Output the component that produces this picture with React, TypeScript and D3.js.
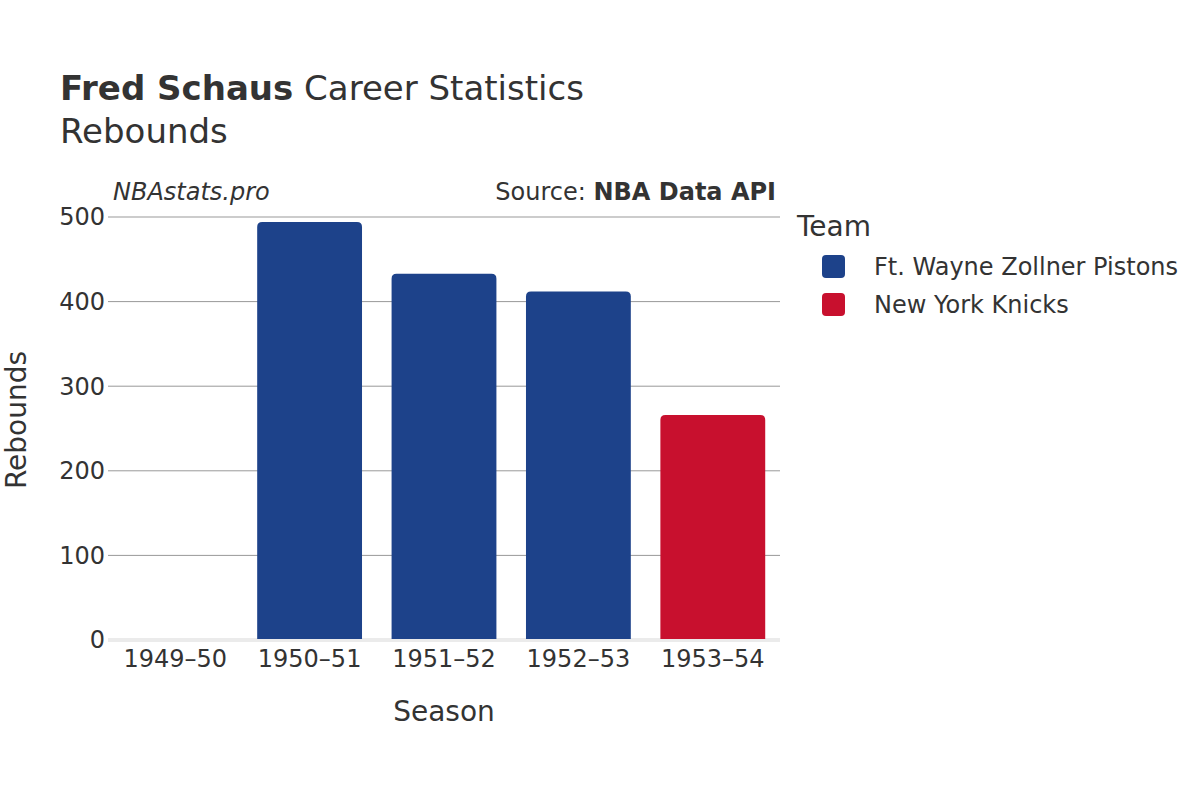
import { useRef, useEffect } from 'react'
import * as d3 from "d3";

const seasons = ["1949–50", "1950–51", "1951–52", "1952–53", "1953–54"];
const rebounds = [0, 494, 433, 412, 266];
const seasonTeams = ["Ft. Wayne Zollner Pistons", "Ft. Wayne Zollner Pistons", "Ft. Wayne Zollner Pistons", "Ft. Wayne Zollner Pistons", "New York Knicks"];
const teams = ["Ft. Wayne Zollner Pistons", "New York Knicks"];
const teamColors = ["#1d428a", "#c8102e"];
const yTickValues = [0, 100, 200, 300, 400, 500];

const width = 1200;
const height = 800;
const marginLeft = 108;
const marginRight = 420;
const marginTop = 217;
const marginBottom = 160;
const font = "'DejaVu Sans', sans-serif";
const textColor = "#333";

function App() {
  const svgRef = useRef<SVGSVGElement>(null);

  useEffect(() => {
    const svg = d3.select(svgRef.current);
    svg.selectAll("*").remove();

    const x = d3.scaleBand(seasons, [marginLeft, width - marginRight]).paddingInner(0.22).paddingOuter(0.11);
    const y = d3.scaleLinear([0, 500], [height - marginBottom, marginTop]);
    const color = d3.scaleOrdinal(teams, teamColors);

    // gridlines
    svg.append("g")
      .selectAll("line")
      .data(yTickValues.filter(d => d > 0))
      .join("line")
      .attr("x1", marginLeft)
      .attr("x2", width - marginRight)
      .attr("y1", d => y(d))
      .attr("y2", d => y(d))
      .attr("stroke", "#999")
      .attr("stroke-width", 1);

    // zero line
    svg.append("line")
      .attr("x1", marginLeft)
      .attr("x2", width - marginRight)
      .attr("y1", y(0))
      .attr("y2", y(0))
      .attr("stroke", "#ebebeb")
      .attr("stroke-width", 4);

    // bars with rounded top corners
    const r = 5;
    svg.append("g")
      .selectAll("path")
      .data(seasons.map((s, i) => ({ season: s, value: rebounds[i], team: seasonTeams[i] })).filter(d => d.value > 0))
      .join("path")
      .attr("fill", d => color(d.team))
      .attr("d", d => {
        const x0 = x(d.season)!;
        const x1 = x0 + x.bandwidth();
        const y0 = y(0) - 1;
        const y1 = y(d.value);
        return `M${x0},${y0}V${y1 + r}Q${x0},${y1} ${x0 + r},${y1}H${x1 - r}Q${x1},${y1} ${x1},${y1 + r}V${y0}Z`;
      });

    // y tick labels
    svg.append("g")
      .selectAll("text")
      .data(yTickValues)
      .join("text")
      .attr("x", marginLeft - 3)
      .attr("y", d => y(d))
      .attr("dy", "0.35em")
      .attr("text-anchor", "end")
      .attr("font-family", font)
      .attr("font-size", 24)
      .attr("fill", textColor)
      .text(d => d);

    // x tick labels
    svg.append("g")
      .selectAll("text")
      .data(seasons)
      .join("text")
      .attr("x", d => x(d)! + x.bandwidth() / 2)
      .attr("y", y(0) + 27)
      .attr("text-anchor", "middle")
      .attr("font-family", font)
      .attr("font-size", 24)
      .attr("fill", textColor)
      .text(d => d);

    // axis titles
    svg.append("text")
      .attr("x", (marginLeft + width - marginRight) / 2)
      .attr("y", 721)
      .attr("text-anchor", "middle")
      .attr("font-family", font)
      .attr("font-size", 28)
      .attr("fill", textColor)
      .text("Season");

    svg.append("text")
      .attr("transform", `translate(26,420) rotate(-90)`)
      .attr("text-anchor", "middle")
      .attr("font-family", font)
      .attr("font-size", 28)
      .attr("fill", textColor)
      .text("Rebounds");

    // title
    const title = svg.append("text")
      .attr("x", 60)
      .attr("y", 100)
      .attr("font-family", font)
      .attr("font-size", 34)
      .attr("fill", textColor);
    title.append("tspan").attr("font-weight", "bold").text("Fred Schaus");
    title.append("tspan").text(" Career Statistics");

    svg.append("text")
      .attr("x", 60)
      .attr("y", 143)
      .attr("font-family", font)
      .attr("font-size", 34)
      .attr("fill", textColor)
      .text("Rebounds");

    // annotations
    svg.append("text")
      .attr("x", 113)
      .attr("y", 200)
      .attr("font-family", font)
      .attr("font-size", 24)
      .attr("font-style", "italic")
      .attr("fill", textColor)
      .text("NBAstats.pro");

    const src = svg.append("text")
      .attr("x", 776)
      .attr("y", 200)
      .attr("text-anchor", "end")
      .attr("font-family", font)
      .attr("font-size", 24)
      .attr("fill", textColor);
    src.append("tspan").text("Source: ");
    src.append("tspan").attr("font-weight", "bold").text("NBA Data API");

    // legend
    const legend = svg.append("g");
    legend.append("text")
      .attr("x", 797)
      .attr("y", 236)
      .attr("font-family", font)
      .attr("font-size", 28)
      .attr("fill", textColor)
      .text("Team");

    const items = legend.selectAll("g.item")
      .data(teams)
      .join("g")
      .attr("class", "item")
      .attr("transform", (_, i) => `translate(822,${255 + i * 38})`);
    items.append("rect")
      .attr("width", 23)
      .attr("height", 23)
      .attr("rx", 4)
      .attr("fill", d => color(d));
    items.append("text")
      .attr("x", 52)
      .attr("y", 12)
      .attr("dy", "0.35em")
      .attr("font-family", font)
      .attr("font-size", 24)
      .attr("fill", textColor)
      .text(d => d);
  }, []);

  return <svg ref={svgRef} width={width} height={height} style={{ position: "absolute", left: 0, top: 0, display: "block", background: "white" }} />;
}

export default App;
